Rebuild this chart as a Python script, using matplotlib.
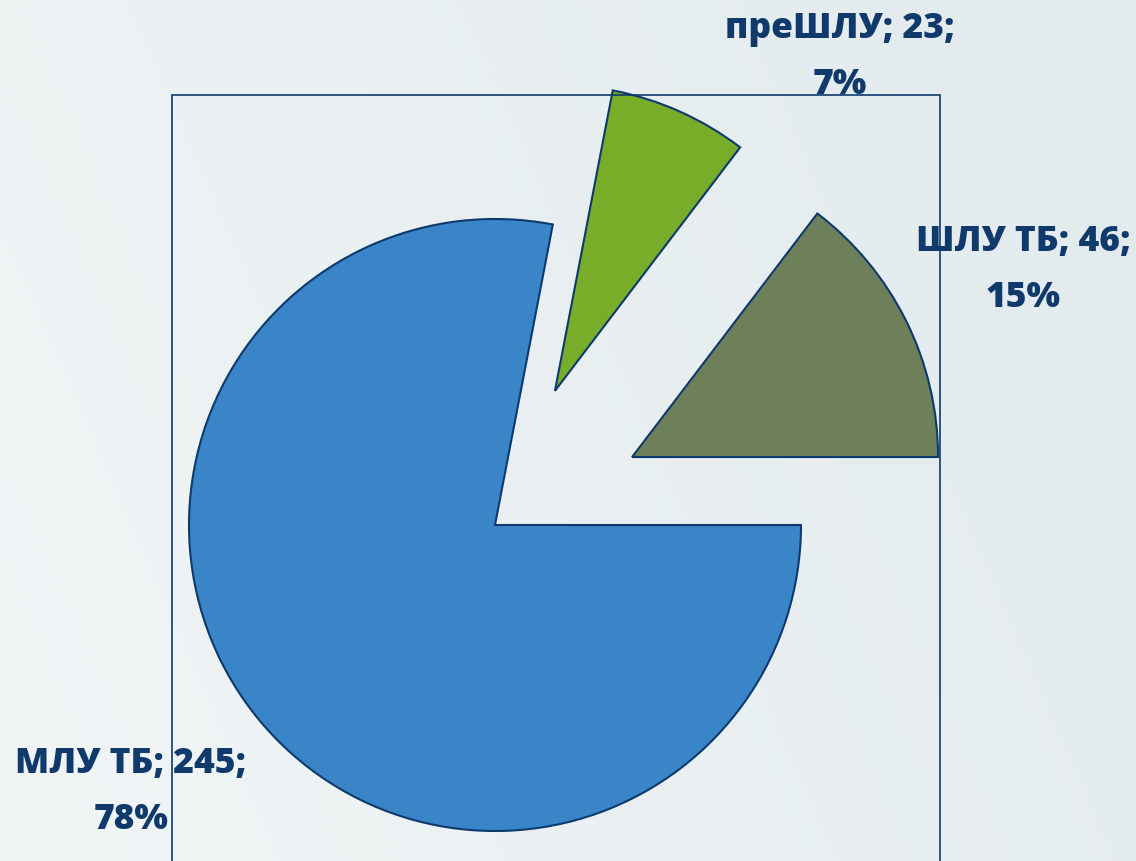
import numpy as np
import matplotlib
matplotlib.use("Agg")
import matplotlib.pyplot as plt
from matplotlib.patches import Rectangle
from matplotlib.colors import LinearSegmentedColormap

# ---- data ----
categories = ["ШЛУ ТБ", "преШЛУ", "МЛУ ТБ"]
values = [46, 23, 245]
colors = ["#6E805A", "#77AD28", "#3A84C8"]
explode = [0.5, 0.48, 0.0]   # fraction of radius

W, H = 1136, 861
fig = plt.figure(figsize=(W / 100, H / 100), dpi=100)

# background gradient
bg = fig.add_axes([0, 0, 1, 1], zorder=0)
cmap = LinearSegmentedColormap.from_list("bg", ["#F1F5F6", "#E2EAED"])
gx = np.linspace(0, 1, 256)
gy = np.linspace(0, 1, 256)
grad = 0.75 * gx[None, :] + 0.25 * gy[:, None]
bg.imshow(grad, cmap=cmap, extent=[0, 1, 0, 1], aspect="auto", origin="lower")
bg.axis("off")

ax = fig.add_axes([0, 0, 1, 1], zorder=1)
ax.patch.set_alpha(0)

cx, cy, r = 495, H - 525, 306
wedges, _ = ax.pie(values, explode=[e * r for e in explode], colors=colors,
                   startangle=0, counterclock=True, center=(cx, cy), radius=r,
                   frame=True,
                   wedgeprops=dict(edgecolor="#0D3A6E", linewidth=1.5))
ax.set_xlim(0, W)
ax.set_ylim(0, H)
ax.set_aspect("equal")
ax.axis("off")

# plot-area border
ax.add_patch(Rectangle((172, -20), 940 - 172, H - 95 + 20, fill=False,
                       edgecolor="#0D3A6E", linewidth=1.2, zorder=5))

total = sum(values)
label_pos = {"ШЛУ ТБ": (1023, H - 270), "преШЛУ": (840, H - 57), "МЛУ ТБ": (131, H - 792)}
for name, v in zip(categories, values):
    pct = round(100 * v / total)
    x, y = label_pos[name]
    ax.text(x, y, f"{name}; {v};\n{pct}%", ha="center", va="center",
            fontsize=25.5, fontweight=800, family="Open Sans",
            color="#0F3A6B", linespacing=1.72, zorder=4)

fig.savefig("out.png", dpi=100)
